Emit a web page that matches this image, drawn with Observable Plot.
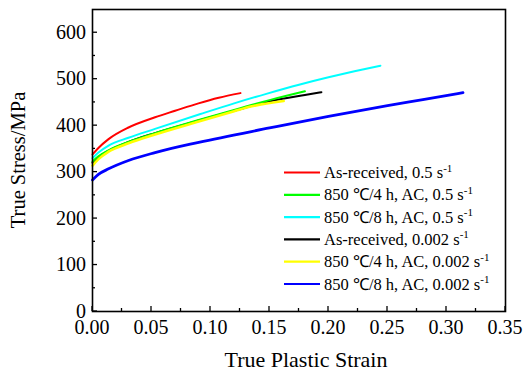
<!DOCTYPE html>
<html><head><meta charset="utf-8">
<script src="https://cdn.jsdelivr.net/npm/d3@7"></script>
<script src="https://cdn.jsdelivr.net/npm/@observablehq/plot@0.6"></script>
<style>
body{margin:0;background:#fff}
</style>
</head><body><div id="chart"></div>
<script>
const seriesNames = ["As-received, 0.5 s", "850 \u2103/4 h, AC, 0.5 s", "850 \u2103/8 h, AC, 0.5 s",
  "As-received, 0.002 s", "850 \u2103/4 h, AC, 0.002 s", "850 \u2103/8 h, AC, 0.002 s"];
const seriesColors = ["#ff0000", "#00ff00", "#00ffff", "#000000", "#ffff00", "#0000ff"];

const redStrain = [0, 0.005, 0.0136, 0.0305, 0.053, 0.07, 0.0898, 0.107, 0.1254];
const redStress = [338, 352, 371, 396, 418, 432, 448, 460, 470];

const greenStrain = [0, 0.005, 0.0136, 0.0305, 0.053, 0.09, 0.12, 0.15, 0.18];
const greenStress = [323, 334, 347, 365, 384, 412, 434, 455, 474];

const cyanStrain = [0, 0.005, 0.0136, 0.0305, 0.053, 0.0915, 0.12, 0.148, 0.175, 0.2, 0.222, 0.244];
const cyanStress = [330, 342, 357, 374, 393, 425, 448, 469, 488, 504, 517, 529];

const blackStrain = [0, 0.005, 0.0136, 0.0305, 0.053, 0.09, 0.12, 0.15, 0.18, 0.194];
const blackStress = [320, 332, 346, 365, 384, 411, 432, 452, 466, 472];

const yellowStrain = [0, 0.005, 0.0136, 0.0305, 0.053, 0.09, 0.12, 0.134, 0.162];
const yellowStress = [314, 328, 344, 362, 381, 409, 431, 441, 453];

const blueStrain = [0, 0.005, 0.0136, 0.0305, 0.053, 0.09, 0.15, 0.2, 0.25, 0.28, 0.314];
const blueStress = [283, 295, 307, 325, 342, 364, 395, 420, 443, 456, 471];

const xTicks = [0, 0.05, 0.1, 0.15, 0.2, 0.25, 0.3, 0.35];
const xMinor = [0.025, 0.075, 0.125, 0.175, 0.225, 0.275, 0.325];
const yTicks = [0, 100, 200, 300, 400, 500, 600];
const yMinor = [50, 150, 250, 350, 450, 550];

const strains = [redStrain, greenStrain, cyanStrain, blackStrain, yellowStrain, blueStrain];
const stresses = [redStress, greenStress, cyanStress, blackStress, yellowStress, blueStress];
const rows = [];
strains.forEach((s, i) => s.forEach((v, j) => rows.push({series: seriesNames[i], strain: v, stress: stresses[i][j]})));

const drawOrder = [3, 1, 4, 0, 2, 5];
const widths = [2, 2, 2, 2, 2.6, 2.8];
const serif = "Liberation Serif, Times New Roman, serif";

const chart = Plot.plot({
  width: 523, height: 379,
  marginLeft: 92, marginRight: 18, marginTop: 9, marginBottom: 68,
  style: {fontFamily: serif, fontSize: "20px", background: "white"},
  x: {domain: [0, 0.35], axis: null},
  y: {domain: [0, 650], axis: null},
  marks: [
    ...drawOrder.map(i => Plot.line(rows.filter(d => d.series === seriesNames[i]), {
      x: "strain", y: "stress", stroke: seriesColors[i], strokeWidth: widths[i], curve: "monotone-x"
    })),
    Plot.frame({stroke: "black", strokeWidth: 1.6})
  ]
});
document.getElementById("chart").appendChild(chart);

const svgSel = d3.select(chart);
const xs = chart.scale("x"), ys = chart.scale("y");
const pxLeft = xs.apply(0), pxBottom = ys.apply(0), pxRight = xs.apply(0.35), pxTop = ys.apply(650);
const tg = svgSel.append("g").attr("stroke", "black").attr("stroke-width", 1.3);
xTicks.forEach(v => tg.append("line").attr("x1", xs.apply(v)).attr("x2", xs.apply(v)).attr("y1", pxBottom).attr("y2", pxBottom - 5));
xMinor.forEach(v => tg.append("line").attr("x1", xs.apply(v)).attr("x2", xs.apply(v)).attr("y1", pxBottom).attr("y2", pxBottom - 3));
yTicks.forEach(v => tg.append("line").attr("y1", ys.apply(v)).attr("y2", ys.apply(v)).attr("x1", pxLeft).attr("x2", pxLeft + 5));
yMinor.forEach(v => tg.append("line").attr("y1", ys.apply(v)).attr("y2", ys.apply(v)).attr("x1", pxLeft).attr("x2", pxLeft + 3));

const lab = svgSel.append("g").attr("font-family", serif).attr("font-size", 20).attr("fill", "black");
const fmt = d3.format(".2f");
xTicks.forEach(v => lab.append("text").attr("x", xs.apply(v)).attr("y", pxBottom + 23)
  .attr("text-anchor", "middle").text(fmt(v)));
yTicks.forEach(v => lab.append("text").attr("x", pxLeft - 6).attr("y", ys.apply(v) + 6.5)
  .attr("text-anchor", "end").text(String(v)));

lab.append("text").attr("x", 306).attr("y", 367).attr("text-anchor", "middle")
  .attr("font-size", 22).text("True Plastic Strain");
lab.append("text").attr("transform", `translate(25,${(pxTop + pxBottom) / 2}) rotate(-90)`).attr("text-anchor", "middle")
  .attr("font-size", 20.5).text("True Stress/MPa");

const leg = svgSel.append("g").attr("font-family", serif);
seriesNames.forEach((name, i) => {
  const y = 172.5 + i * 22.3;
  leg.append("line").attr("x1", 284).attr("x2", 320).attr("y1", y).attr("y2", y)
    .attr("stroke", seriesColors[i]).attr("stroke-width", 2.2);
  const t = leg.append("text").attr("x", 324).attr("y", y + 5.5).attr("text-anchor", "start")
    .attr("font-size", 16.5).attr("fill", "black");
  t.append("tspan").text(name);
  t.append("tspan").attr("dy", -6.5).attr("font-size", 11).text("-1");
});
</script>
</body></html>
